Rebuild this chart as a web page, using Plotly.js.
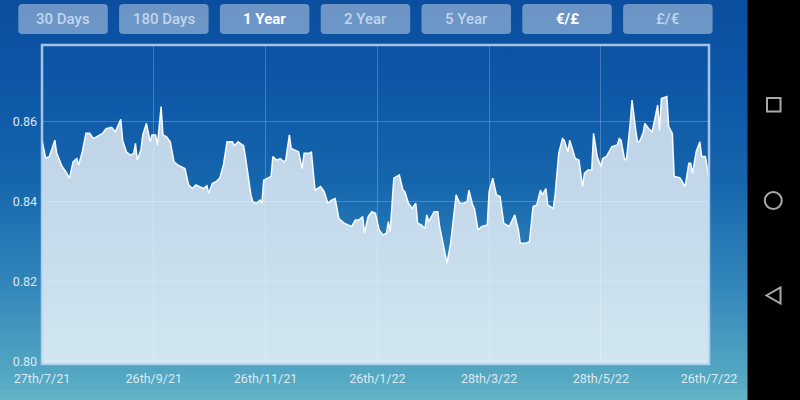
<!DOCTYPE html>
<html>
<head>
<meta charset="utf-8">
<script src="https://cdn.plot.ly/plotly-3.0.1.min.js"></script>
<style>
  html, body { margin: 0; padding: 0; }
  #chart {
    width: 800px; height: 400px;
    background: linear-gradient(to bottom, #0b4e9f 0%, #0d56a7 20%, #1565ac 45%, #3487bb 72%, #5db1c4 100%);
  }
</style>
</head>
<body>
<div id="chart"></div>
<script>
// Day offsets from 27 Jul 2021
const dayOffsets = [0,2,4,7,8,11,13,15,17,19,20,22,24,26,28,31,33,35,38,40,43,44,46,48,50,51,52,54,55,57,59,60,62,63,64,65,66,68,70,72,74,76,78,80,82,84,85,88,90,91,93,95,97,99,101,104,105,107,110,111,114,115,117,119,120,121,125,126,128,130,132,133,135,136,138,140,142,143,146,147,149,152,154,156,158,160,162,165,167,169,171,173,175,176,178,180,182,184,186,188,189,190,192,195,197,198,200,202,204,205,207,209,210,211,214,216,217,219,221,223,225,226,228,230,232,233,235,236,238,240,243,244,246,248,250,252,255,258,260,261,264,266,268,270,272,273,275,276,279,280,282,284,285,287,288,289,291,293,294,295,296,298,300,301,303,305,306,308,311,314,315,316,318,319,321,322,324,325,326,328,329,331,333,335,336,337,338,341,342,344,345,348,351,353,354,355,357,359,360,362,364];

// EUR/GBP rate
const rates = [0.8554,0.8509,0.8513,0.8554,0.8522,0.8488,0.8475,0.8459,0.8500,0.8508,0.8492,0.8525,0.8571,0.8571,0.8558,0.8567,0.8571,0.8583,0.8586,0.8575,0.8606,0.8554,0.8525,0.8517,0.8520,0.8546,0.8504,0.8529,0.8567,0.8596,0.8550,0.8567,0.8567,0.8542,0.8596,0.8638,0.8567,0.8562,0.8550,0.8500,0.8492,0.8488,0.8483,0.8442,0.8433,0.8442,0.8440,0.8433,0.8440,0.8421,0.8446,0.8450,0.8459,0.8492,0.8550,0.8550,0.8540,0.8550,0.8540,0.8513,0.8417,0.8400,0.8396,0.8404,0.8396,0.8454,0.8463,0.8513,0.8504,0.8508,0.8500,0.8504,0.8567,0.8533,0.8529,0.8525,0.8483,0.8521,0.8521,0.8525,0.8429,0.8438,0.8425,0.8396,0.8404,0.8408,0.8358,0.8346,0.8342,0.8338,0.8354,0.8354,0.8363,0.8321,0.8363,0.8375,0.8371,0.8329,0.8317,0.8321,0.8350,0.8325,0.8459,0.8467,0.8429,0.8425,0.8396,0.8383,0.8396,0.8346,0.8342,0.8333,0.8367,0.8350,0.8375,0.8375,0.8338,0.8296,0.8246,0.8296,0.8388,0.8417,0.8396,0.8396,0.8400,0.8429,0.8392,0.8383,0.8329,0.8338,0.8342,0.8425,0.8459,0.8417,0.8413,0.8346,0.8338,0.8367,0.8329,0.8296,0.8296,0.8300,0.8388,0.8392,0.8429,0.8417,0.8433,0.8392,0.8383,0.8417,0.8521,0.8558,0.8554,0.8525,0.8554,0.8538,0.8508,0.8504,0.8463,0.8438,0.8471,0.8479,0.8479,0.8571,0.8513,0.8488,0.8508,0.8513,0.8538,0.8542,0.8558,0.8554,0.8504,0.8508,0.8596,0.8654,0.8579,0.8550,0.8550,0.8571,0.8596,0.8583,0.8575,0.8621,0.8642,0.8579,0.8658,0.8663,0.8588,0.8571,0.8463,0.8460,0.8438,0.8496,0.8496,0.8471,0.8525,0.8550,0.8513,0.8513,0.8459];

const tickDates = ['2021-07-27','2021-09-26','2021-11-26','2022-01-26','2022-03-28','2022-05-28','2022-07-26'];
const tickLabels = ['27th/7/21','26th/9/21','26th/11/21','26th/1/22','28th/3/22','28th/5/22','26th/7/22'];
const yTicks = [0.80, 0.82, 0.84, 0.86];
const yTickLabels = ['0.80','0.82','0.84','0.86'];

const buttonLabels = ['30 Days','180 Days','1 Year','2 Year','5 Year','€/£','£/€'];
const buttonActive = [false,false,true,false,false,true,false];

const startMs = Date.UTC(2021, 6, 27);
const dates = dayOffsets.map(d => new Date(startMs + d * 86400000).toISOString().slice(0, 10));

// layout geometry (pixels)
const W = 800, H = 400, L = 42, R = 709, T = 45, B = 364;
const pw = R - L, ph = B - T;
const px = X => (X - L) / pw;
const py = Y => (B - Y) / ph;

const shapes = [];
const annotations = [];

// plot frame
shapes.push({type:'rect', xref:'paper', yref:'paper', x0:0, x1:1, y0:0, y1:1,
  line:{color:'rgba(190,215,242,0.85)', width:2.5}, layer:'above'});

// bottom band
shapes.push({type:'rect', xref:'paper', yref:'paper', x0:px(0), x1:px(748), y0:py(400), y1:py(389),
  fillcolor:'rgba(255,255,255,0.04)', line:{width:0}, layer:'below'});

// buttons
const bw = 89.5, bh = 30, br = 4;
function roundRectPath(w, h, r) {
  const a = w/2, b = h/2;
  return `M${-a+r},${-b} H${a-r} Q${a},${-b} ${a},${-b+r} V${b-r} Q${a},${b} ${a-r},${b} H${-a+r} Q${-a},${b} ${-a},${b-r} V${-b+r} Q${-a},${-b} ${-a+r},${-b} Z`;
}
buttonLabels.forEach((lab, i) => {
  const cx = 18.3 + bw/2 + i * 100.8;
  const cy = 19;
  shapes.push({type:'path', xref:'paper', yref:'paper', xsizemode:'pixel', ysizemode:'pixel',
    xanchor: px(cx), yanchor: py(cy), path: roundRectPath(bw, bh, br),
    fillcolor:'rgba(255,255,255,0.40)', line:{width:0}, layer:'above'});
  annotations.push({xref:'paper', yref:'paper', x: px(cx), y: py(cy - 0.5), text: lab, showarrow:false,
    xanchor:'center', yanchor:'middle',
    font:{family:'Roboto, sans-serif', size:15, color: buttonActive[i] ? '#ffffff' : '#c2d5ec',
      weight: buttonActive[i] ? 'bold' : 500}});
});

// navigation bar
shapes.push({type:'rect', xref:'paper', yref:'paper', x0:px(747.5), x1:px(801), y0:py(401), y1:py(-1),
  fillcolor:'#000000', line:{width:0}, layer:'above'});
const iconCol = '#a9a9a9';
shapes.push({type:'rect', xref:'paper', yref:'paper', x0:px(767), x1:px(780.5), y0:py(111.5), y1:py(98),
  line:{color:iconCol, width:2}, fillcolor:'rgba(0,0,0,0)', layer:'above'});
shapes.push({type:'circle', xref:'paper', yref:'paper', x0:px(764.8), x1:px(781.8), y0:py(209), y1:py(192),
  line:{color:iconCol, width:2}, fillcolor:'rgba(0,0,0,0)', layer:'above'});
shapes.push({type:'path', xref:'paper', yref:'paper', xsizemode:'pixel', ysizemode:'pixel',
  xanchor:px(773.5), yanchor:py(295.5), path:'M-7,0 L7,-8 L7,8 Z',
  line:{color:iconCol, width:2}, fillcolor:'rgba(0,0,0,0)', layer:'above'});

const trace = {
  x: dates, y: rates, type:'scatter', mode:'lines',
  line:{color:'rgba(255,255,255,0.95)', width:1.5, shape:'linear'},
  fill:'tozeroy', fillcolor:'rgba(255,255,255,0.74)',
  hoverinfo:'skip'
};

const layout = {
  width: W, height: H,
  margin:{l:L, r:W-R, t:T, b:H-B, pad:0},
  paper_bgcolor:'rgba(0,0,0,0)', plot_bgcolor:'rgba(0,0,0,0)',
  showlegend:false,
  xaxis:{type:'date', range:['2021-07-27','2022-07-26'], tickmode:'array', tickvals:tickDates, ticktext:tickLabels,
    showgrid:true, gridcolor:'rgba(255,255,255,0.22)', gridwidth:1, zeroline:false, showline:false, ticks:'',
    ticklabelstandoff:5,
    tickfont:{family:'Roboto, sans-serif', size:12.5, color:'#dbe9f3'}},
  yaxis:{range:[0.7994, 0.8792], tickmode:'array', tickvals:yTicks, ticktext:yTickLabels,
    showgrid:true, gridcolor:'rgba(255,255,255,0.22)', gridwidth:1, zeroline:false, showline:false, ticks:'',
    ticklabelstandoff:4,
    tickfont:{family:'Roboto, sans-serif', size:12.5, color:'#dbe9f3'}},
  shapes: shapes,
  annotations: annotations
};

Plotly.newPlot('chart', [trace], layout, {displayModeBar:false, staticPlot:true});
</script>
</body>
</html>
